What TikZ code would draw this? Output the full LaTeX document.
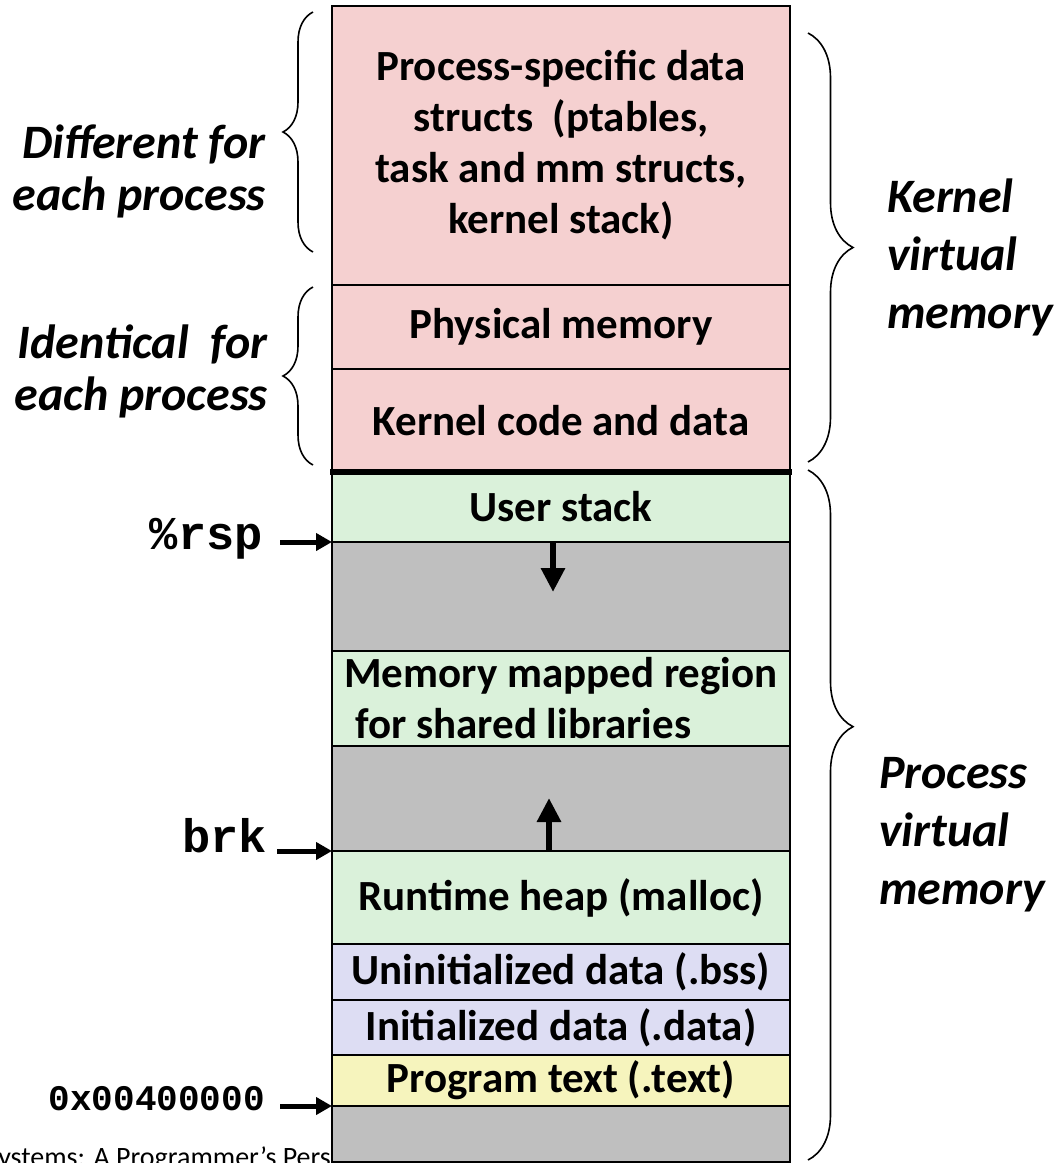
\documentclass[tikz,border=0pt]{standalone}
\usepackage{fontspec}
\setmainfont{Carlito}
\setmonofont{Liberation Mono}
\usepackage{tikz}
\usetikzlibrary{positioning}
\usetikzlibrary{arrows.meta}
\usetikzlibrary{decorations.pathreplacing}

\definecolor{kernpink}{HTML}{F5D0D0}
\definecolor{usergreen}{HTML}{DAF1DA}
\definecolor{holegray}{HTML}{BFBFBF}
\definecolor{datablue}{HTML}{DDDDF3}
\definecolor{textyellow}{HTML}{F6F4BD}

\tikzset{
  seg/.style={draw, line width=2pt, outer sep=0pt, inner sep=0pt,
    minimum width=458pt, align=center,
    font=\fontsize{43}{51}\selectfont\bfseries},
  side/.style={font=\fontsize{48}{52}\selectfont\bfseries\itshape, inner sep=0pt},
  reg/.style={font=\fontsize{47}{47}\selectfont\ttfamily\bfseries, inner sep=0pt},
  ptr/.style={line width=5pt, -{Triangle[length=16pt,width=17pt]}},
  growarrow/.style={line width=6pt, -{Triangle[length=24pt,width=23pt]}},
  curly/.style={line width=1.6pt, decorate}
}

\begin{document}
\begin{tikzpicture}[x=1pt,y=-1pt]
          \useasboundingbox (0,0) rectangle (1057,1163);
          \clip (0,0) rectangle (1057,1163);
          % slide footer, mostly hidden behind the stack
          \node[anchor=base west, inner sep=0pt, font=\fontsize{28}{28}\selectfont] (foot) at (-135,1166) {Computer Systems: A Programmer’s Perspective};

          % kernel part
          \node[seg, fill=kernpink, minimum height=279pt, anchor=north] (pdata) at (561,6) {Process-specific data\\ structs\ \ (ptables,\\task and mm structs,\\kernel stack)};
          \node[seg, fill=kernpink, minimum height=84pt, below=0pt of pdata] (phys) {Physical memory};
          \node[seg, fill=kernpink, minimum height=103pt, below=0pt of phys] (kcode) {Kernel code and data};
          % user part
          \node[seg, fill=usergreen, minimum height=70pt, below=0pt of kcode] (ustack) {User stack};
          \node[seg, fill=holegray, minimum height=109pt, below=0pt of ustack] (gapa) {};
          \node[seg, fill=usergreen, minimum height=95pt, below=0pt of gapa, align=left] (mmap) {Memory mapped region\\\hspace*{0.25em}for shared libraries};
          \node[seg, fill=holegray, minimum height=105pt, below=0pt of mmap] (gapb) {};
          \node[seg, fill=usergreen, minimum height=93pt, below=0pt of gapb] (heap) {Runtime heap (malloc)};
          \node[seg, fill=datablue, minimum height=56pt, below=0pt of heap] (bss) {Uninitialized data (.bss)};
          \node[seg, fill=datablue, minimum height=55pt, below=0pt of bss] (idata) {Initialized data (.data)};
          \node[seg, fill=textyellow, minimum height=51pt, below=0pt of idata] (ptext) {Program text (.text)};
          \node[seg, fill=holegray, minimum height=56pt, below=0pt of ptext] (gapc) {};
          \draw[line width=6pt, shorten <=-2pt, shorten >=-2pt] (kcode.south west) -- (kcode.south east);

          % growth arrows
          \draw[growarrow] ([xshift=-8pt]ustack.south) -- ++(0,50);
          \draw[growarrow] ([xshift=-12pt]heap.north) -- ++(0,-53);

          % pointers
          \node[reg, anchor=base east] (rsp) at (263,549) {\%rsp};
          \node[reg, anchor=base east] (brk) at (267,852) {brk};
          \node[reg, anchor=base east, font=\fontsize{36}{36}\selectfont\ttfamily\bfseries] (start) at (265,1110) {0x00400000};
          \draw[ptr] ([xshift=17pt]rsp.east |- ustack.south west) -- (ustack.south west);
          \draw[ptr] ([xshift=10pt]brk.east |- heap.north west) -- (heap.north west);
          \draw[ptr] ([xshift=15pt]start.east |- ptext.south west) -- (ptext.south west);

          % braces and side labels
          \draw[curly, decoration={brace, amplitude=30pt}] (313,252) -- (313,12);
          \draw[curly, decoration={brace, amplitude=30pt}] (313,465) -- (313,287);
          \draw[curly, decoration={brace, amplitude=45pt}] (808,33) -- (808,462);
          \draw[curly, decoration={brace, amplitude=45pt, aspect=0.372}] (808,470) -- (808,1160);
          \node[side, align=right, anchor=east] (diff) at (266,171) {Different for\\each process};
          \node[side, align=right, anchor=east] (same) at (268,371) {Identical\ \ for\\each process};
          \node[side, align=left, anchor=west, font=\fontsize{48}{58}\selectfont\bfseries\itshape] (kvm) at (887,257) {Kernel\\virtual\\memory};
          \node[side, align=left, anchor=west, font=\fontsize{48}{58}\selectfont\bfseries\itshape] (pvm) at (879,835) {Process\\virtual\\memory};
\end{tikzpicture}
\end{document}
